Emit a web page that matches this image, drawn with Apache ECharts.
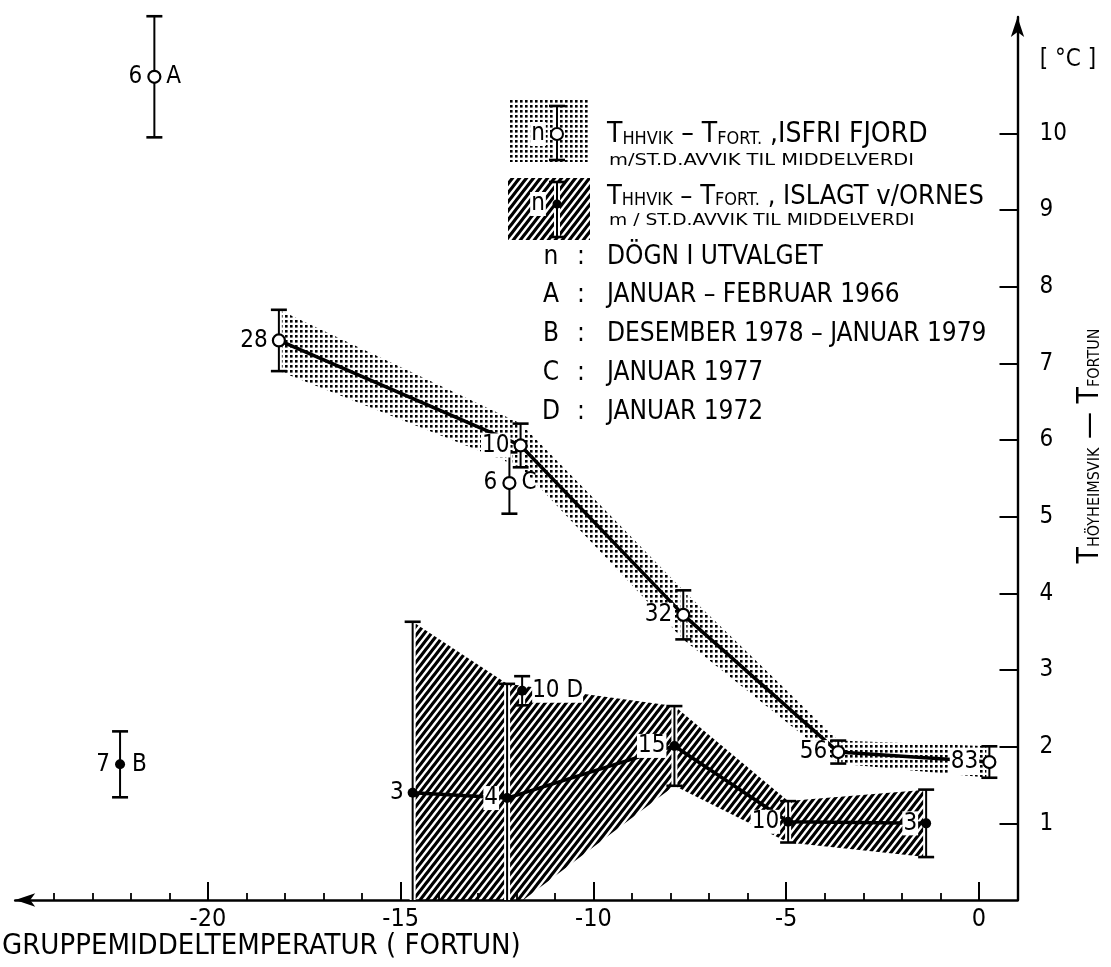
<!DOCTYPE html>
<html><head><meta charset="utf-8">
<script src="https://cdn.jsdelivr.net/npm/echarts@6/dist/echarts.min.js"></script>
<style>html,body{margin:0;padding:0;background:#fff}#c{width:1111px;height:967px}</style>
</head><body><div id="c"></div>
<script>
// ---- Ice-free fjord (ISFRI FJORD): group mean temperature at Fortun, mean difference, st.dev., n
const freeX    = [-18.16, -11.89, -7.67, -3.65, 0.27];
const freeMean = [7.30, 5.93, 3.72, 1.93, 1.80];
const freeStd  = [0.40, 0.285, 0.32, 0.15, 0.205];
const freeN    = [28, 10, 32, 56, 83];
// ---- Ice-covered (ISLAGT v/ORNES)
const iceX    = [-14.69, -12.24, -7.90, -4.95, -1.37];
const iceMean = [1.40, 1.33, 2.01, 1.02, 1.00];
const iceStd  = [2.23, 1.49, 0.52, 0.27, 0.44];
const iceN    = [3, 4, 15, 10, 3];
// ---- Single periods A-D
const specLetter = ['A', 'B', 'C', 'D'];
const specX      = [-21.39, -22.28, -12.18, -11.85];
const specMean   = [10.74, 1.77, 5.44, 2.73];
const specStd    = [0.79, 0.43, 0.40, 0.19];
const specN      = [6, 7, 6, 10];
const specOpen   = [true, false, true, false];
const specNLeft  = [true, true, true, false];
// ---- ticks
const xMajorTicks = [-20, -15, -10, -5, 0];
const xMinorTicks = [-24,-23,-22,-21,-19,-18,-17,-16,-14,-13,-12,-11,-9,-8,-7,-6,-4,-3,-2,-1];
const yTicks = [1, 2, 3, 4, 5, 6, 7, 8, 9, 10];
// ---- texts
const xTitle = 'GRUPPEMIDDELTEMPERATUR ( FORTUN)';
const yUnit = '[ °C ]';
const legendKeys  = ['n', 'A', 'B', 'C', 'D'];
const legendTexts = ['DÖGN I UTVALGET', 'JANUAR – FEBRUAR 1966', 'DESEMBER 1978 – JANUAR 1979', 'JANUAR 1977', 'JANUAR 1972'];

const FONT = "'DejaVu Sans Condensed','Liberation Sans Narrow',sans-serif";

function dotPattern() {
  const c = document.createElement('canvas'); c.width = 5; c.height = 5;
  const g = c.getContext('2d'); g.fillStyle = '#000'; g.fillRect(0, 0, 2.6, 2.6);
  return c;
}
function hatchPattern() {
  const w = 7, h = 9;
  const c = document.createElement('canvas'); c.width = w; c.height = h;
  const g = c.getContext('2d'); g.strokeStyle = '#000'; g.lineWidth = 3.2;
  g.beginPath();
  for (let k = -1; k <= 1; k++) { g.moveTo(k * w - w, 2 * h); g.lineTo(k * w + 2 * w, -h); }
  g.stroke();
  return c;
}
const DOTS = { image: dotPattern(), repeat: 'repeat' };
const HATCH = { image: hatchPattern(), repeat: 'repeat' };

function bandSeries(xs, means, stds, fill, z) {
  return {
    type: 'custom', z: z, clip: true, silent: true, animation: false,
    data: [[xs[0], means[0]]], encode: { x: 0, y: 1 },
    renderItem: function (params, api) {
      const up = xs.map((x, i) => api.coord([x, means[i] + stds[i]]));
      const lo = xs.map((x, i) => api.coord([x, means[i] - stds[i]])).reverse();
      return { type: 'polygon', shape: { points: up.concat(lo) }, style: { fill: fill } };
    }
  };
}
function errSeries(xs, means, stds, clip, z) {
  return {
    type: 'custom', z: z, clip: clip, silent: true, animation: false,
    data: xs.map((x, i) => [x, means[i], stds[i]]), encode: { x: 0, y: 1 },
    renderItem: function (params, api) {
      const x = api.value(0), m = api.value(1), s = api.value(2);
      const t = api.coord([x, m + s]), b = api.coord([x, m - s]);
      const hw = 8;
      return { type: 'group', children: [
        { type: 'line', shape: { x1: t[0], y1: t[1], x2: b[0], y2: b[1] }, style: { stroke: '#fff', lineWidth: 6 } },
        { type: 'line', shape: { x1: t[0], y1: t[1], x2: b[0], y2: b[1] }, style: { stroke: '#000', lineWidth: 2 } },
        { type: 'line', shape: { x1: t[0] - hw, y1: t[1], x2: t[0] + hw, y2: t[1] }, style: { stroke: '#000', lineWidth: 2.6 } },
        { type: 'line', shape: { x1: b[0] - hw, y1: b[1], x2: b[0] + hw, y2: b[1] }, style: { stroke: '#000', lineWidth: 2.6 } }
      ] };
    }
  };
}
const labelBase = { show: true, position: 'left', distance: 3, fontSize: 24, fontFamily: FONT, color: '#000', backgroundColor: '#fff', padding: [0, 1, 0, 1] };

const chart = echarts.init(document.getElementById('c'), null, { renderer: 'canvas' });

const G = [];
// legend patches
G.push({ type: 'rect', shape: { x: 510, y: 98, width: 80, height: 64 }, style: { fill: DOTS }, silent: true });
G.push({ type: 'rect', shape: { x: 508, y: 178, width: 82, height: 62 }, style: { fill: HATCH }, silent: true });
// glyph row 1
G.push({ type: 'line', shape: { x1: 557, y1: 106, x2: 557, y2: 160 }, style: { stroke: '#fff', lineWidth: 6 } });
G.push({ type: 'line', shape: { x1: 557, y1: 106, x2: 557, y2: 160 }, style: { stroke: '#000', lineWidth: 2 } });
G.push({ type: 'line', shape: { x1: 549, y1: 106, x2: 565, y2: 106 }, style: { stroke: '#000', lineWidth: 2.6 } });
G.push({ type: 'line', shape: { x1: 549, y1: 160, x2: 565, y2: 160 }, style: { stroke: '#000', lineWidth: 2.6 } });
G.push({ type: 'circle', shape: { cx: 557, cy: 134, r: 6 }, style: { fill: '#fff', stroke: '#000', lineWidth: 2 } });
G.push({ type: 'text', x: 538, y: 134, style: { text: 'n', fontSize: 24, fontFamily: FONT, fill: '#000', align: 'center', verticalAlign: 'middle', backgroundColor: '#fff', padding: [0, 1] } });
// glyph row 2
G.push({ type: 'line', shape: { x1: 557, y1: 182, x2: 557, y2: 237 }, style: { stroke: '#fff', lineWidth: 6 } });
G.push({ type: 'line', shape: { x1: 557, y1: 182, x2: 557, y2: 237 }, style: { stroke: '#000', lineWidth: 2 } });
G.push({ type: 'line', shape: { x1: 549, y1: 182, x2: 565, y2: 182 }, style: { stroke: '#000', lineWidth: 2.6 } });
G.push({ type: 'line', shape: { x1: 549, y1: 237, x2: 565, y2: 237 }, style: { stroke: '#000', lineWidth: 2.6 } });
G.push({ type: 'circle', shape: { cx: 557, cy: 204, r: 4.5 }, style: { fill: '#000' } });
G.push({ type: 'text', x: 538, y: 204, style: { text: 'n', fontSize: 24, fontFamily: FONT, fill: '#000', align: 'center', verticalAlign: 'middle', backgroundColor: '#fff', padding: [0, 1] } });
// legend texts
const richLeg = { s: { fontSize: 18, fontFamily: FONT, verticalAlign: 'bottom', padding: [0, 0, 1, 0] } };
G.push({ type: 'text', x: 607, y: 135, style: { text: 'T{s|HHVIK} – T{s|FORT.} ,ISFRI FJORD', rich: richLeg, fontSize: 28, fontFamily: FONT, fill: '#000', align: 'left', verticalAlign: 'middle' } });
G.push({ type: 'text', x: 609, y: 161, scaleX: 1.35, style: { text: 'm/ST.D.AVVIK TIL MIDDELVERDI', fontSize: 16, fontFamily: FONT, fill: '#000', align: 'left', verticalAlign: 'middle' } });
G.push({ type: 'text', x: 607, y: 197, style: { text: 'T{s|HHVIK} – T{s|FORT.} , ISLAGT v/ORNES', rich: richLeg, fontSize: 27, fontFamily: FONT, fill: '#000', align: 'left', verticalAlign: 'middle' } });
G.push({ type: 'text', x: 609, y: 221, scaleX: 1.3, style: { text: 'm / ST.D.AVVIK TIL MIDDELVERDI', fontSize: 16, fontFamily: FONT, fill: '#000', align: 'left', verticalAlign: 'middle' } });
legendKeys.forEach(function (k, i) {
  const yy = 257 + i * 38.7;
  G.push({ type: 'text', x: 551, y: yy, style: { text: k, fontSize: 26, fontFamily: FONT, fill: '#000', align: 'center', verticalAlign: 'middle' } });
  G.push({ type: 'text', x: 581, y: yy, style: { text: ':', fontSize: 26, fontFamily: FONT, fill: '#000', align: 'center', verticalAlign: 'middle' } });
  G.push({ type: 'text', x: 607, y: yy, style: { text: legendTexts[i], fontSize: 26, fontFamily: FONT, fill: '#000', align: 'left', verticalAlign: 'middle' } });
});
// axis titles
G.push({ type: 'text', x: 2, y: 946, style: { text: xTitle, fontSize: 29, fontFamily: FONT, fill: '#000', align: 'left', verticalAlign: 'middle' } });
G.push({ type: 'text', x: 1068, y: 60, style: { text: yUnit, fontSize: 24, fontFamily: FONT, fill: '#000', align: 'center', verticalAlign: 'middle' } });
G.push({ type: 'text', x: 1090, y: 446, rotation: Math.PI / 2, style: {
  text: 'T{s|HÖYHEIMSVIK} — T{s|FORTUN}', fontSize: 30, fontFamily: FONT, fill: '#000', align: 'center', verticalAlign: 'middle',
  rich: { s: { fontSize: 16, fontFamily: FONT, verticalAlign: 'bottom', padding: [0, 0, 2, 0] } } } });

const option = {
  animation: false,
  backgroundColor: '#fff',
  grid: { left: 15.2, right: 93.5, top: 17, bottom: 67, outerBoundsMode: 'none', containLabel: false },
  xAxis: [
    { type: 'value', min: -25, max: 1, position: 'bottom',
      axisLine: { show: true, onZero: false, symbol: ['arrow', 'none'], symbolSize: [10, 20], lineStyle: { color: '#000', width: 2.5 } },
      axisTick: { show: true, inside: true, length: 18, customValues: xMajorTicks, lineStyle: { color: '#000', width: 2 } },
      axisLabel: { show: true, customValues: xMajorTicks, margin: 7, fontSize: 25, fontFamily: FONT, color: '#000' },
      splitLine: { show: false } },
    { type: 'value', min: -25, max: 1, position: 'bottom', offset: 0,
      axisLine: { show: false, onZero: false },
      axisTick: { show: true, inside: true, length: 7, customValues: xMinorTicks, lineStyle: { color: '#000', width: 1.8 } },
      axisLabel: { show: false }, splitLine: { show: false } }
  ],
  yAxis: { type: 'value', min: 0, max: 11.52, position: 'right',
    axisLine: { show: true, onZero: false, symbol: ['none', 'arrow'], symbolSize: [10, 20], lineStyle: { color: '#000', width: 2.4 } },
    axisTick: { show: true, inside: true, length: 18, customValues: yTicks, lineStyle: { color: '#000', width: 2 } },
    axisLabel: { show: true, customValues: yTicks, margin: 22, fontSize: 24, fontFamily: FONT, color: '#000' },
    splitLine: { show: false } },
  graphic: G,
  series: [
    bandSeries(freeX, freeMean, freeStd, DOTS, 1),
    bandSeries(iceX, iceMean, iceStd, HATCH, 1),
    errSeries(freeX, freeMean, freeStd, true, 3),
    errSeries(iceX, iceMean, iceStd, true, 3),
    errSeries(specX, specMean, specStd, false, 3),
    { type: 'line', z: 5, animation: false, silent: true,
      data: freeX.map((x, i) => [x, freeMean[i], freeN[i]]),
      symbol: 'circle', symbolSize: 12, showAllSymbol: true,
      itemStyle: { color: '#fff', borderColor: '#000', borderWidth: 2.2, opacity: 1 },
      lineStyle: { color: '#000', width: 3.5 },
      label: Object.assign({}, labelBase, { formatter: p => String(p.value[2]) }) },
    { type: 'line', z: 5, animation: false, silent: true,
      data: iceX.map((x, i) => [x, iceMean[i], iceN[i]]),
      symbol: 'circle', symbolSize: 10, showAllSymbol: true,
      itemStyle: { color: '#000', borderColor: '#000', borderWidth: 0, opacity: 1 },
      lineStyle: { color: '#000', width: 3.5 },
      label: Object.assign({}, labelBase, { formatter: p => String(p.value[2]) }) },
    { type: 'scatter', z: 6, animation: false, silent: true,
      itemStyle: { opacity: 1 },
      data: specX.map((x, i) => ({
        value: [x, specMean[i]],
        symbolSize: specOpen[i] ? 12 : 10,
        itemStyle: specOpen[i] ? { color: '#fff', borderColor: '#000', borderWidth: 2.2, opacity: 1 } : { color: '#000', borderWidth: 0, opacity: 1 },
        label: { show: true, position: specNLeft[i] ? 'left' : 'right', distance: 5, fontSize: 24, fontFamily: FONT, color: '#000',
          backgroundColor: specNLeft[i] ? 'transparent' : '#fff',
          formatter: specNLeft[i] ? String(specN[i]) : specN[i] + ' ' + specLetter[i] }
      })) },
    { type: 'scatter', z: 6, animation: false, silent: true, symbol: 'circle', symbolSize: 2,
      itemStyle: { color: 'rgba(0,0,0,0)', opacity: 1 },
      data: specX.map((x, i) => ({
        value: [x, specMean[i]],
        label: { show: specNLeft[i], position: 'right', distance: 11, fontSize: 24, fontFamily: FONT, color: '#000', formatter: specLetter[i] }
      })) }
  ]
};
chart.setOption(option);
</script>
</body></html>
